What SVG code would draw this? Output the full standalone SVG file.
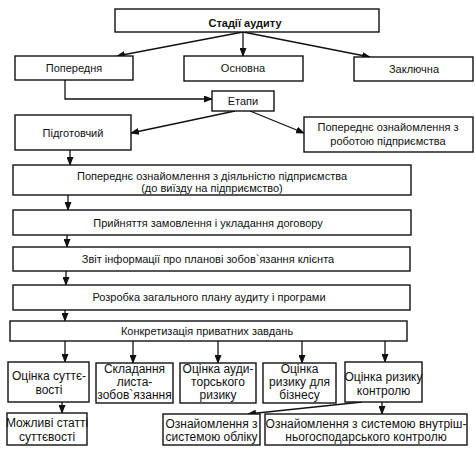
<svg xmlns="http://www.w3.org/2000/svg" width="475" height="452" viewBox="0 0 475 452">
<style>
rect{fill:#fff;stroke:#111;stroke-width:1.4}
text{font-family:"Liberation Sans",Arial,sans-serif;font-size:11px;fill:#111;text-anchor:middle}
.b{font-weight:bold}
.l{font-size:12px}
.c path,.c line{stroke:#111;stroke-width:1.3;fill:none;marker-end:url(#a)}
</style>
<defs>
<marker id="a" markerUnits="userSpaceOnUse" markerWidth="9" markerHeight="7" refX="8" refY="3.5" orient="auto">
<path d="M0,0 L9,3.5 L0,7 Z" fill="#111"/>
</marker>
</defs>
<rect x="0" y="0" width="475" height="452" style="fill:#fff;stroke:none"/>
<g class="c" id="connectors">
<line x1="243" y1="32" x2="117" y2="56"/>
<line x1="243" y1="32" x2="243" y2="56"/>
<line x1="243" y1="32" x2="370" y2="57"/>
<path d="M65,80 V99 H212"/>
<line x1="235" y1="111" x2="131" y2="133"/>
<line x1="250" y1="111" x2="304" y2="133"/>
<line x1="70" y1="150" x2="70" y2="165"/>
<line x1="68" y1="195" x2="68" y2="210"/>
<line x1="67" y1="235" x2="67" y2="247"/>
<line x1="66" y1="271" x2="66" y2="285"/>
<line x1="65" y1="310" x2="65" y2="321"/>
<line x1="65" y1="341" x2="65" y2="362"/>
<line x1="133" y1="341" x2="133" y2="363"/>
<line x1="218" y1="341" x2="218" y2="363"/>
<line x1="302" y1="341" x2="302" y2="363"/>
<line x1="385" y1="341" x2="385" y2="362"/>
<line x1="62" y1="402" x2="62" y2="413"/>
<line x1="362" y1="402" x2="248" y2="414"/>
<line x1="382" y1="402" x2="382" y2="414"/>
</g>
<g id="stadii"><rect x="115" y="9" width="264" height="23"/><text class="b" x="245" y="27">Стадії аудиту</text></g>
<g id="poperednia"><rect x="15" y="56" width="118" height="24"/><text x="74" y="72">Попередня</text></g>
<g id="osnovna"><rect x="184" y="56" width="119" height="25"/><text x="243" y="72">Основна</text></g>
<g id="zakliuchna"><rect x="354" y="57" width="119" height="24"/><text x="414" y="73">Заключна</text></g>
<g id="etapy"><rect x="212" y="91" width="62" height="20"/><text x="243" y="105">Етапи</text></g>
<g id="pidhotovchyi"><rect x="15" y="115" width="116" height="35"/><text x="73" y="137">Підготовчий</text></g>
<g id="oznai-robota"><rect x="304" y="117" width="169" height="35"/><text x="388" y="131">Попереднє ознайомлення з</text><text x="388" y="145">роботою підприємства</text></g>
<g id="oznai-diialnist"><rect x="13" y="165" width="398" height="30"/><text x="212" y="180">Попереднє ознайомлення з діяльністю підприємства</text><text x="212" y="192">(до виїзду на підприємство)</text></g>
<g id="pryiniattia"><rect x="13" y="210" width="398" height="25"/><text x="208" y="227">Прийняття замовлення і укладання договору</text></g>
<g id="zvit"><rect x="13" y="247" width="397" height="24"/><text x="208" y="263">Звіт інформації про планові зобов`язання клієнта</text></g>
<g id="rozrobka"><rect x="13" y="285" width="397" height="25"/><text x="209" y="301">Розробка загального плану аудиту і програми</text></g>
<g id="konkretyzatsiia"><rect x="10" y="321" width="397" height="20"/><text x="207" y="335">Конкретизація приватних завдань</text></g>
<g id="suttievist"><rect x="8" y="362" width="81" height="40"/><text class="l" x="49" y="380">Оцінка суттє-</text><text class="l" x="49" y="394">вості</text></g>
<g id="lyst"><rect x="96" y="363" width="77" height="40"/><text class="l" x="134.5" y="373">Складання</text><text class="l" x="134.5" y="386">листа-</text><text class="l" x="134.5" y="399">зобов`язання</text></g>
<g id="audyt-ryzyk"><rect x="180" y="363" width="76" height="40"/><text class="l" x="218" y="373">Оцінка ауди-</text><text class="l" x="218" y="386">торського</text><text class="l" x="218" y="399">ризику</text></g>
<g id="biznes-ryzyk"><rect x="263" y="363" width="73" height="40"/><text class="l" x="299.5" y="373">Оцінка</text><text class="l" x="299.5" y="386">ризику для</text><text class="l" x="299.5" y="399">бізнесу</text></g>
<g id="kontrol-ryzyk"><rect x="345" y="362" width="77" height="40"/><text class="l" x="383.5" y="381">Оцінка ризику</text><text class="l" x="383.5" y="395">контролю</text></g>
<g id="mozhlyvi"><rect x="7" y="413" width="80" height="32"/><text class="l" x="47" y="427">Можливі статті</text><text class="l" x="47" y="441">суттєвості</text></g>
<g id="oblik"><rect x="163" y="414" width="97" height="31"/><text class="l" x="211.5" y="428">Ознайомлення з</text><text class="l" x="211.5" y="441">системою обліку</text></g>
<g id="vnutr-kontrol"><rect x="265" y="414" width="202" height="31"/><text class="l" x="366" y="428">Ознайомлення з системою внутріш-</text><text class="l" x="366" y="441">ньогосподарського контролю</text></g>
</svg>
